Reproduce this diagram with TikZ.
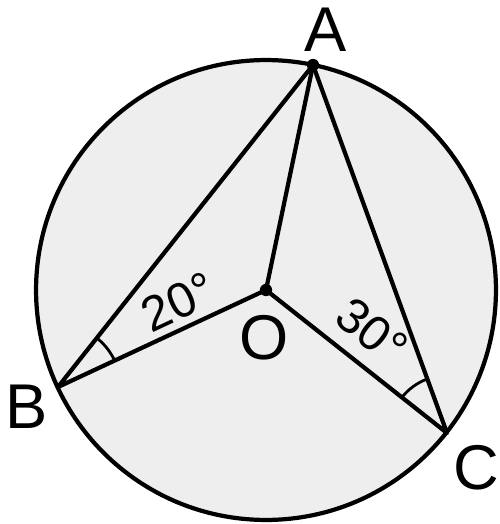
\documentclass[tikz,border=0pt]{standalone}
\usepackage{fontspec}
\setmainfont{Liberation Sans}
\usetikzlibrary{angles}
\definecolor{diskgray}{HTML}{EEEEEE}
\tikzset{
  geo/.style={line width=2.4pt, black},
  ptlabel/.style={font=\fontsize{36}{36}\selectfont, inner sep=0pt},
  deglabel/.style={font=\fontsize{28}{28}\selectfont, inner sep=0pt},
  anglemark/.style={draw, line width=1.6pt}
}
\begin{document}
\begin{tikzpicture}[x=0.02cm, y=-0.02cm]
  \useasboundingbox (0,0) rectangle (500,524);
  \coordinate (O) at (266,290);
  \coordinate (A) at (313,65);
  \coordinate (B) at (58,387);
  \coordinate (C) at (447,433);
  \draw[geo, fill=diskgray] (O) circle [radius=4.6cm];
  \draw[geo, line join=round] (B) -- (A) -- (C) -- (O) -- (B);
  \draw[geo] (A) -- (O);
  \fill (A) circle [radius=3.5pt];
  \fill (O) circle [radius=3.5pt];
  \pic[anglemark, angle radius=1.25cm] {angle = O--B--A};
  \pic[anglemark, angle radius=1.15cm] {angle = A--C--O};
  \node[ptlabel] (la) at (326,30) {A};
  \node[ptlabel] (lb) at (27,407) {B};
  \node[ptlabel] (lc) at (476,468) {C};
  \node[ptlabel] (lo) at (264,338) {O};
  \node[deglabel, rotate=25] (d20) at (178,302) {20°};
  \node[deglabel, rotate=-38] (d30) at (372,331) {30°};
\end{tikzpicture}
\end{document}
